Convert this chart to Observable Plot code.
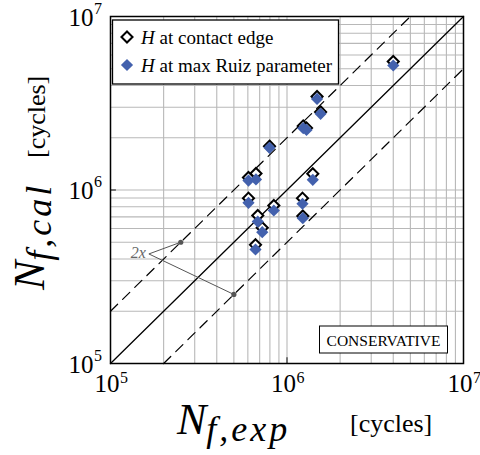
<!DOCTYPE html>
<html><head><meta charset="utf-8">
<script src="https://cdn.jsdelivr.net/npm/d3@7"></script>
<script src="https://cdn.jsdelivr.net/npm/@observablehq/plot@0.6"></script>
<style>html,body{margin:0;padding:0;background:#fff}</style>
</head><body><div id="chart"></div>
<script>
// ---- data ----
const nExp      = [4.0e6, 1.48e6, 1.55e6, 1.236e6, 1.29e6, 7.96e5, 6.05e5, 6.67e5, 1.40e6, 6.05e5, 8.42e5, 1.224e6, 1.229e6, 6.83e5, 7.24e5, 6.63e5];
const nCalEdge  = [5.50e6, 3.46e6, 2.82e6, 2.34e6, 2.28e6, 1.79e6, 1.18e6, 1.245e6, 1.24e6, 8.97e5, 8.14e5, 8.97e5, 7.08e5, 7.13e5, 6.06e5, 4.83e5];
const nCalRuiz  = [5.22e6, 3.35e6, 2.75e6, 2.27e6, 2.22e6, 1.75e6, 1.134e6, 1.15e6, 1.145e6, 8.44e5, 7.62e5, 8.33e5, 6.88e5, 6.58e5, 5.71e5, 4.54e5];
const decades   = [1e5, 1e6, 1e7];
const exponents = ["5", "6", "7"];
const mantissas = [1, 2, 3, 4, 5, 6, 7, 8, 9];
const legendLabels = ["at contact edge", "at max Ruiz parameter"];
const lineOneToOne = [{x: 1e5, y: 1e5}, {x: 1e7, y: 1e7}];
const lineUpper    = [{x: 1e5, y: 2e5}, {x: 5e6, y: 1e7}];
const lineLower    = [{x: 2e5, y: 1e5}, {x: 1e7, y: 5e6}];
const annoVertex   = {x: 1.65e5, y: 4.28e5};
const annoEnds     = [{x: 2.5e5, y: 5e5}, {x: 5e5, y: 2.5e5}];
const annoLabel    = "2x";
const boxLabel     = "CONSERVATIVE";

const points = nExp.map((e, i) => ({exp: e, edge: nCalEdge[i], ruiz: nCalRuiz[i]}));
const gridVals = [...decades.slice(0, 2).flatMap(d => mantissas.map(m => m * d)), 1e7];

const BLUE = "#4361ad";
const FONT = "Liberation Serif";

const chart = Plot.plot({
  width: 480, height: 455,
  marginLeft: 110, marginRight: 17, marginTop: 16, marginBottom: 92,
  x: {type: "log", domain: [1e5, 1e7], axis: null},
  y: {type: "log", domain: [1e5, 1e7], axis: null},
  style: {fontFamily: FONT, background: "white", overflow: "visible"},
  marks: [
    Plot.ruleX(gridVals, {stroke: "#b8b8b8", strokeWidth: 1.1}),
    Plot.ruleY(gridVals, {stroke: "#b8b8b8", strokeWidth: 1.1}),
    Plot.line(lineOneToOne, {x: "x", y: "y", stroke: "black", strokeWidth: 1.3}),
    Plot.line(lineUpper, {x: "x", y: "y", stroke: "black", strokeWidth: 1.2, strokeDasharray: "10,7"}),
    Plot.line(lineLower, {x: "x", y: "y", stroke: "black", strokeWidth: 1.2, strokeDasharray: "10,7"}),
    Plot.link(annoEnds, {x1: () => annoVertex.x, y1: () => annoVertex.y, x2: "x", y2: "y", stroke: "#555", strokeWidth: 1}),
    Plot.dot(annoEnds, {x: "x", y: "y", r: 2.6, fill: "#555", stroke: "none"}),
    Plot.text([annoLabel], {x: () => annoVertex.x, y: () => annoVertex.y, text: d => d, textAnchor: "end", dx: -3, dy: -1, fontStyle: "italic", fontSize: 16, fill: "#666"}),
    Plot.dot(points, {x: "exp", y: "edge", symbol: "diamond2", r: 5.0, fill: "white", stroke: "black", strokeWidth: 2}),
    Plot.dot(points, {x: "exp", y: "ruiz", symbol: "diamond2", r: 5.5, fill: BLUE, stroke: "none"}),
    Plot.ruleX([1e6], {y1: 1e5, y2: 1.08e5, stroke: "#333", strokeWidth: 1.2}),
    Plot.ruleY([1e6], {x1: 1e5, x2: 1.08e5, stroke: "#333", strokeWidth: 1.2}),
    Plot.frame({stroke: "black", strokeWidth: 1.5}),
    // tick labels
    Plot.text(decades, {x: d => d, frameAnchor: "bottom", text: () => "10", textAnchor: "end", dx: 9, dy: 28, fontSize: 25, fill: "black"}),
    Plot.text(decades, {x: d => d, frameAnchor: "bottom", text: (d, i) => exponents[i], textAnchor: "start", dx: 9.5, dy: 19, fontSize: 16, fill: "black"}),
    Plot.text(decades, {y: d => d, frameAnchor: "left", text: () => "10", textAnchor: "end", dx: -17, dy: 1, fontSize: 25, fill: "black"}),
    Plot.text(decades, {y: d => d, frameAnchor: "left", text: (d, i) => exponents[i], textAnchor: "start", dx: -16.5, dy: -8, fontSize: 16, fill: "black"})
  ]
});
document.getElementById("chart").appendChild(chart);

// ---- titles, legend, box (real text appended to the Plot SVG) ----
const svg = d3.select(chart);
const addText = (parent) => parent.append("text").attr("text-anchor", "start").style("font-family", FONT).attr("fill", "black");
// x title
const xt = addText(svg).attr("x", 177).attr("y", 434);
xt.append("tspan").attr("font-style", "italic").attr("font-size", 44).text("N");
xt.append("tspan").attr("font-style", "italic").attr("font-size", 36).attr("dy", 7).attr("letter-spacing", 3).text("f,exp");
xt.append("tspan").attr("font-size", 26).attr("y", 432).attr("x", 350).text("[cycles]");
// y title
const yt = addText(svg).attr("transform", "translate(44,290) rotate(-90)");
yt.append("tspan").attr("font-style", "italic").attr("font-size", 44).text("N");
yt.append("tspan").attr("font-style", "italic").attr("font-size", 36).attr("dy", 7).attr("letter-spacing", 3).text("f,cal");
yt.append("tspan").attr("font-size", 26).attr("dy", -6).attr("x", 132).text("[cycles]");

// legend
const lg = svg.append("g");
lg.append("rect").attr("x", 112.5).attr("y", 20).attr("width", 226).attr("height", 64).attr("fill", "white").attr("stroke", "black").attr("stroke-width", 1.3);
lg.append("path").attr("d", d3.symbol(d3.symbolDiamond2, 5.0 * 5.0 * Math.PI)()).attr("transform", "translate(127,37)").attr("fill", "white").attr("stroke", "black").attr("stroke-width", 2);
lg.append("path").attr("d", d3.symbol(d3.symbolDiamond2, 5.5 * 5.5 * Math.PI)()).attr("transform", "translate(127,65)").attr("fill", BLUE);
[43.5, 72].forEach((yy, i) => {
  const t = addText(lg).attr("x", 141).attr("y", yy).attr("font-size", 19);
  t.append("tspan").attr("font-style", "italic").text("H");
  t.append("tspan").text(" " + legendLabels[i]);
});

// conservative box
const cb = svg.append("g");
cb.append("rect").attr("x", 319.5).attr("y", 326).attr("width", 128).attr("height", 27).attr("fill", "white").attr("stroke", "black").attr("stroke-width", 1);
addText(cb).attr("x", 383.5).attr("y", 346).attr("text-anchor", "middle").attr("font-size", 15.5).text(boxLabel);
</script>
</body></html>
